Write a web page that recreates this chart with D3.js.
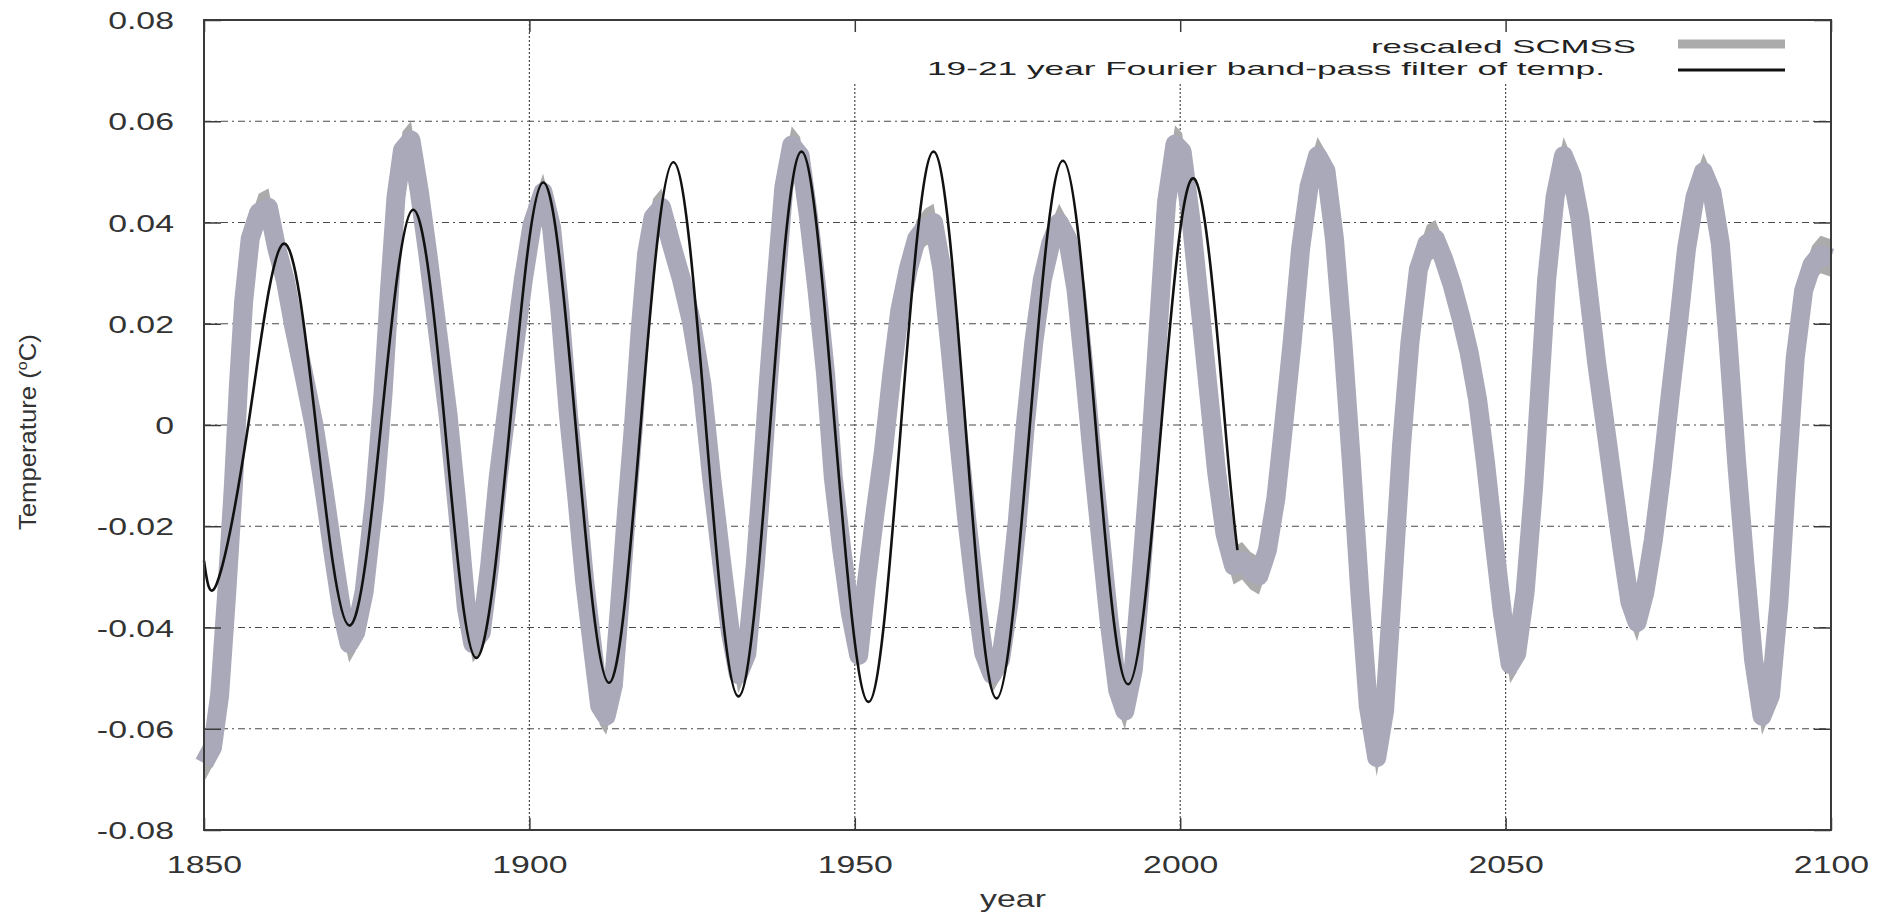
<!DOCTYPE html>
<html><head><meta charset="utf-8">
<script src="https://cdn.jsdelivr.net/npm/d3@7"></script>
<style>
html,body{margin:0;padding:0;background:#fff;}
svg{display:block;font-family:"Liberation Sans",Arial,Helvetica,sans-serif;}
</style></head><body>
<svg id="chart" width="1880" height="914"></svg>
<script>
// ---------------- data ----------------
const xTicks = [1850, 1900, 1950, 2000, 2050, 2100];
const xTickLabels = ["1850", "1900", "1950", "2000", "2050", "2100"];
const yTicks = [-0.08, -0.06, -0.04, -0.02, 0, 0.02, 0.04, 0.06, 0.08];
const yTickLabels = ["-0.08", "-0.06", "-0.04", "-0.02", "0", "0.02", "0.04", "0.06", "0.08"];
const seriesNames = ["rescaled SCMSS", "19-21 year Fourier band-pass filter of temp."];
const xTitle = "year";

const scmssYears = [
  1850.0,1851.3,1852.4,1853.5,1854.5,1855.3,1856.1,1857.1,1858.4,1859.9,1861.2,1862.5,1863.8,1865.3,1866.9,1868.4,1870.0,1871.2,1872.3,1873.3,
  1874.6,1876.2,1877.5,1878.5,1879.5,1880.5,1881.8,1883.1,1884.4,1885.9,1887.5,1889.0,1890.3,1891.3,1892.6,1893.9,1895.2,1896.5,1897.8,1899.1,
  1900.4,1902.1,1903.4,1904.7,1906.0,1907.3,1908.5,1909.8,1910.8,1911.8,1912.9,1913.9,1914.9,1916.0,1917.0,1918.0,1919.0,1920.3,1921.8,1923.4,
  1924.9,1926.5,1928.0,1929.6,1930.9,1932.1,1933.4,1934.7,1935.7,1936.7,1937.8,1939.1,1940.3,1941.6,1942.9,1944.2,1945.5,1946.7,1948.0,1949.3,
  1950.6,1951.8,1953.1,1954.4,1955.7,1956.9,1958.2,1959.5,1960.8,1962.1,1963.4,1964.7,1965.9,1967.2,1968.5,1969.8,1971.1,1972.4,1973.7,1975.0,
  1976.2,1977.5,1978.8,1980.1,1981.4,1982.7,1984.0,1985.3,1986.5,1987.8,1989.1,1990.4,1991.5,1992.8,1994.1,1995.3,1996.6,1997.9,1999.2,2000.3,
  2001.8,2003.1,2004.4,2005.6,2006.9,2008.2,2009.5,2010.8,2012.1,2013.4,2014.7,2015.9,2017.2,2018.5,2019.8,2021.1,2022.4,2023.7,2025.0,2026.3,
  2027.6,2028.9,2030.2,2031.4,2032.7,2034.0,2035.3,2036.6,2037.9,2039.2,2040.5,2041.8,2043.1,2044.4,2045.7,2046.9,2048.2,2049.5,2050.7,2051.7,
  2053.0,2054.3,2055.3,2056.3,2057.6,2058.9,2060.2,2061.4,2062.7,2064.0,2065.3,2066.6,2067.9,2069.1,2070.2,2071.4,2072.7,2074.0,2075.3,2076.6,
  2077.8,2079.1,2080.4,2081.7,2083.0,2084.2,2085.5,2086.8,2088.1,2089.4,2090.7,2092.0,2093.2,2094.5,2095.8,2097.1,2098.4,2100.0
];
const scmssValues = [
  -0.0668,-0.0637,-0.0534,-0.0330,-0.0124,0.0081,0.0245,0.0368,0.0420,0.0430,0.0348,0.0286,0.0194,0.0102,0.0000,-0.0124,-0.0268,-0.0370,-0.0432,-0.0410,
  -0.0330,-0.0145,0.0060,0.0266,0.0450,0.0543,0.0563,0.0460,0.0337,0.0184,0.0020,-0.0175,-0.0360,-0.0432,-0.0410,-0.0278,-0.0104,0.0030,0.0163,0.0290,
  0.0395,0.0460,0.0390,0.0225,0.0020,-0.0145,-0.0310,-0.0450,-0.0555,-0.0575,-0.0514,-0.0350,-0.0175,0.0000,0.0184,0.0337,0.0410,0.0430,0.0358,0.0286,
  0.0204,0.0081,-0.0104,-0.0278,-0.0411,-0.0493,-0.0452,-0.0278,-0.0104,0.0081,0.0266,0.0470,0.0553,0.0532,0.0410,0.0266,0.0102,-0.0104,-0.0247,-0.0370,
  -0.0455,-0.0310,-0.0175,-0.0052,0.0102,0.0225,0.0307,0.0368,0.0390,0.0400,0.0307,0.0143,-0.0022,-0.0186,-0.0330,-0.0450,-0.0493,-0.0463,-0.0350,-0.0186,
  0.0000,0.0163,0.0286,0.0358,0.0400,0.0368,0.0266,0.0102,-0.0063,-0.0227,-0.0390,-0.0524,-0.0565,-0.0483,-0.0278,-0.0073,0.0184,0.0440,0.0555,0.0540,
  0.0389,0.0225,0.0060,-0.0093,-0.0216,-0.0278,-0.0268,-0.0288,-0.0298,-0.0247,-0.0145,0.0000,0.0163,0.0348,0.0471,0.0532,0.0502,0.0368,0.0163,-0.0073,
  -0.0330,-0.0555,-0.0657,-0.0565,-0.0309,-0.0042,0.0163,0.0307,0.0358,0.0368,0.0327,0.0276,0.0214,0.0143,0.0050,-0.0073,-0.0227,-0.0370,-0.0473,-0.0452,
  -0.0330,-0.0124,0.0081,0.0286,0.0450,0.0532,0.0491,0.0410,0.0266,0.0122,0.0000,-0.0124,-0.0247,-0.0350,-0.0390,-0.0330,-0.0227,-0.0093,0.0060,0.0204,
  0.0348,0.0450,0.0500,0.0460,0.0358,0.0163,-0.0073,-0.0278,-0.0463,-0.0575,-0.0534,-0.0350,-0.0104,0.0132,0.0266,0.0317,0.0337,0.0330
];

const filterYears = [
  1850.0,1852.0,1856.8,1862.2,1867.2,1872.3,1877.2,1882.1,1887.0,1891.8,1897.0,1902.1,1907.1,1912.2,1917.1,1922.1,1927.1,
  1932.1,1937.0,1941.8,1946.9,1952.1,1957.1,1962.1,1967.0,1971.8,1976.9,1982.0,1987.0,1992.0,1997.1,2002.2,2006.9,2008.8
];
const filterValues = [
  -0.0268,-0.0312,0.0000,0.0358,0.0000,-0.0396,0.0000,0.0425,0.0000,-0.0460,0.0000,0.0479,0.0000,-0.0509,0.0000,0.0519,0.0000,
  -0.0536,0.0000,0.0540,0.0000,-0.0547,0.0000,0.0540,0.0000,-0.0540,0.0000,0.0522,0.0000,-0.0512,0.0000,0.0486,0.0000,-0.0247
];

// ---------------- layout / style ----------------
const W = 1880, H = 914;
const M = {left: 204, right: 49, top: 20, bottom: 84};
const bandHalf = 0.0037;          // half thickness of noisy band (data units)
const textStretch = 1.41;         // horizontal stretch of the original raster

const svg = d3.select("#chart");
const x = d3.scaleLinear().domain([1850, 2100]).range([M.left, W - M.right]);
const y = d3.scaleLinear().domain([-0.08, 0.08]).range([H - M.bottom, M.top]);
const x0 = x.range()[0], x1 = x.range()[1], y0 = y.range()[0], y1 = y.range()[1];

// grid
const grid = svg.append("g").attr("stroke", "#4a4a4a").attr("stroke-width", 1.2).attr("fill", "none");
grid.selectAll("line.h").data(yTicks.slice(1, -1)).join("line")
  .attr("x1", x0).attr("x2", x1).attr("y1", d => y(d)).attr("y2", d => y(d))
  .attr("stroke-dasharray", "7,4,2,4");
grid.selectAll("line.v").data(xTicks.slice(1, -1)).join("line")
  .attr("x1", d => x(d)).attr("x2", d => x(d)).attr("y1", y1).attr("y2", y0)
  .attr("stroke-dasharray", "2,2");

// key background (opaque, hides grid behind legend)
svg.append("rect").attr("x", 800).attr("y", y1).attr("width", x1 - 800).attr("height", 63).attr("fill", "#fff");

// SCMSS band
const scmss = scmssYears.map((d, i) => ({x: d, v: scmssValues[i]}));
svg.append("path").datum(scmss)
  .attr("fill", "#ababab")
  .attr("d", d3.area().x(d => x(d.x)).y0(d => y(d.v - bandHalf)).y1(d => y(d.v + bandHalf)));
svg.append("path").datum(scmss)
  .attr("fill", "none").attr("stroke", "#a9a9b9").attr("stroke-width", 19).attr("stroke-linejoin", "round")
  .attr("d", d3.line().x(d => x(d.x)).y(d => y(d.v)));

// filter line
const filt = filterYears.map((d, i) => ({x: d, v: filterValues[i]}));
svg.append("path").datum(filt)
  .attr("fill", "none").attr("stroke", "#111").attr("stroke-width", 2.6)
  .attr("d", d3.line().curve(d3.curveNatural).x(d => x(d.x)).y(d => y(d.v)));

// axes
const fontSize = 24;
const ax = svg.append("g").attr("transform", `translate(${x0},0)`)
  .call(d3.axisLeft(y).tickValues(yTicks).tickSizeInner(-17).tickSizeOuter(0).tickFormat((d, i) => yTickLabels[i]));
const axR = svg.append("g").attr("transform", `translate(${x1},0)`)
  .call(d3.axisRight(y).tickValues(yTicks).tickSizeInner(-17).tickSizeOuter(0).tickFormat(""));
const axB = svg.append("g").attr("transform", `translate(0,${y0})`)
  .call(d3.axisBottom(x).tickValues(xTicks).tickSizeInner(-12).tickSizeOuter(0).tickFormat((d, i) => xTickLabels[i]));
const axT = svg.append("g").attr("transform", `translate(0,${y1})`)
  .call(d3.axisTop(x).tickValues(xTicks).tickSizeInner(-12).tickSizeOuter(0).tickFormat(""));
[ax, axR, axB, axT].forEach(g => {
  g.select(".domain").remove();
  g.selectAll(".tick line").attr("stroke", "#3a3a3a").attr("stroke-width", 1.5);
  g.attr("font-family", null).attr("font-size", null);
});
ax.selectAll(".tick text")
  .attr("x", 0).attr("y", 0).attr("dy", null).attr("text-anchor", "end")
  .attr("font-size", fontSize).attr("fill", "#333")
  .attr("transform", `translate(-30,8.5) scale(${textStretch},1)`);
axB.selectAll(".tick text")
  .attr("x", 0).attr("y", 0).attr("dy", null).attr("text-anchor", "middle")
  .attr("font-size", fontSize).attr("fill", "#333")
  .attr("transform", `translate(0,43) scale(${textStretch},1)`);

// frame
svg.append("rect").attr("x", x0).attr("y", y1).attr("width", x1 - x0).attr("height", y0 - y1)
  .attr("fill", "none").attr("stroke", "#3a3a3a").attr("stroke-width", 2);

// axis titles
svg.append("text").attr("text-anchor", "middle").attr("font-size", fontSize).attr("fill", "#333")
  .attr("transform", `translate(1013,907) scale(${textStretch},1)`).text(xTitle);

const yl = svg.append("text").attr("font-size", fontSize).attr("fill", "#333")
  .attr("transform", `translate(36,530) rotate(-90) scale(1.07,1)`);
yl.append("tspan").text("Temperature (");
yl.append("tspan").attr("font-size", 15).attr("dy", -9).text("o");
yl.append("tspan").attr("dy", 9).text("C)");

// legend
const leg = svg.append("g");
leg.append("text").attr("x", 1371).attr("y", 53).attr("font-size", 19).attr("fill", "#222")
  .attr("textLength", 265).attr("lengthAdjust", "spacingAndGlyphs").text(seriesNames[0]);
leg.append("text").attr("x", 927).attr("y", 75).attr("font-size", 19).attr("fill", "#222")
  .attr("textLength", 678).attr("lengthAdjust", "spacingAndGlyphs").text(seriesNames[1]);
leg.append("line").attr("x1", 1678).attr("x2", 1785).attr("y1", 44).attr("y2", 44)
  .attr("stroke", "#ababab").attr("stroke-width", 9);
leg.append("line").attr("x1", 1678).attr("x2", 1785).attr("y1", 70).attr("y2", 70)
  .attr("stroke", "#111").attr("stroke-width", 3);
</script>
</body></html>
